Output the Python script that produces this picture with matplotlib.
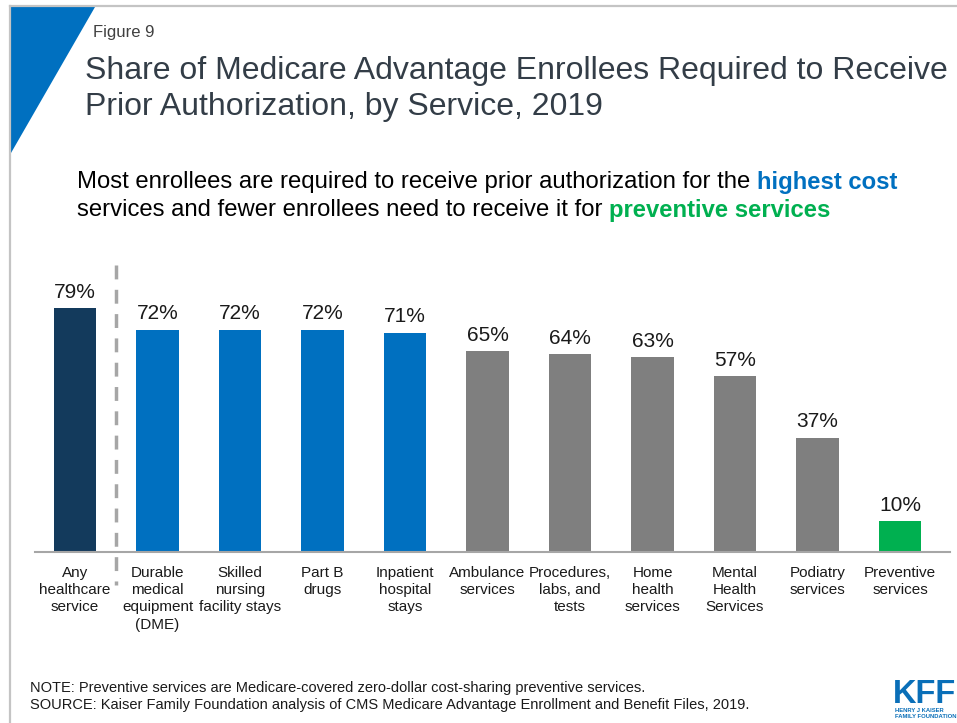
import matplotlib.pyplot as plt
from matplotlib.patches import Polygon
from matplotlib.lines import Line2D

plt.rcParams['font.family'] = ['Liberation Sans', 'DejaVu Sans']

W, H = 957, 723

categories = [
    "Any\nhealthcare\nservice",
    "Durable\nmedical\nequipment\n(DME)",
    "Skilled\nnursing\nfacility stays",
    "Part B\ndrugs",
    "Inpatient\nhospital\nstays",
    "Ambulance\nservices",
    "Procedures,\nlabs, and\ntests",
    "Home\nhealth\nservices",
    "Mental\nHealth\nServices",
    "Podiatry\nservices",
    "Preventive\nservices",
]
shares = [79, 72, 72, 72, 71, 65, 64, 63, 57, 37, 10]
groups = ["total", "high", "high", "high", "high", "mid", "mid", "mid", "mid", "mid", "prev"]

group_colors = {"total": "#133a5c", "high": "#0070c0", "mid": "#7f7f7f", "prev": "#00b050"}


def fx(x):
    return x / W


def fy(y):
    return 1 - y / H


fig = plt.figure(figsize=(W / 100, H / 100), dpi=100)

# frame lines and corner triangle
fig.add_artist(Line2D([fx(10), 1], [fy(6), fy(6)], color="#c4c4c4", lw=1.6))
fig.add_artist(Line2D([fx(10), fx(10)], [fy(6), 0], color="#c4c4c4", lw=1.6))
fig.add_artist(Polygon([[fx(11), fy(7)], [fx(95), fy(7)], [fx(11), fy(153)]],
                       closed=True, color="#0070c0", lw=0))

fig.text(fx(93), fy(33), "Figure 9", fontsize=12, color="#404040", va="center")
fig.text(fx(85), fy(71), "Share of Medicare Advantage Enrollees Required to Receive",
         fontsize=23, color="#333d47", va="center")
fig.text(fx(85), fy(107), "Prior Authorization, by Service, 2019",
         fontsize=23, color="#333d47", va="center")

# subtitle with highlighted words
fig.canvas.draw()
renderer = fig.canvas.get_renderer()


def run_line(x, y, parts):
    for txt, color, weight in parts:
        t = fig.text(fx(x), fy(y), txt, fontsize=17.2, color=color,
                     fontweight=weight, va="center")
        x += t.get_window_extent(renderer).width


run_line(77, 182, [("Most enrollees are required to receive prior authorization for the ", "black", "normal"),
                   ("highest cost", "#0070c0", "bold")])
run_line(77, 210, [("services and fewer enrollees need to receive it for ", "black", "normal"),
                   ("preventive services", "#00b050", "bold")])

# bar chart
ax = fig.add_axes([fx(35), 1 - 552 / H, (950 - 35) / W, (552 - 260) / H])
xs = range(len(shares))
bars = ax.bar(xs, shares, width=0.51, color=[group_colors[g] for g in groups])
for x, v in zip(xs, shares):
    ax.text(x, v + 2.0, f"{v}%", ha="center", va="bottom", fontsize=15, color="#1a1a1a")

ax.set_xlim(-0.485, 10.606)
ax.set_ylim(0, 94.5)
ax.set_xticks(list(xs))
ax.set_xticklabels(categories, fontsize=11, color="#1a1a1a", linespacing=1.3)
ax.tick_params(axis="x", length=0, pad=10)
ax.set_yticks([])
for side in ["top", "left", "right"]:
    ax.spines[side].set_visible(False)
ax.spines["bottom"].set_color("#a6a6a6")
ax.spines["bottom"].set_linewidth(1.5)

# divider between the total and the individual services
fig.add_artist(Line2D([fx(116), fx(116)], [fy(265), fy(585)], color="#a6a6a6",
                      lw=2.5, linestyle=(0, (4, 3))))

fig.text(fx(30), fy(688), "NOTE: Preventive services are Medicare-covered zero-dollar cost-sharing preventive services.",
         fontsize=10.5, color="#1a1a1a", va="center")
fig.text(fx(30), fy(705), "SOURCE: Kaiser Family Foundation analysis of CMS Medicare Advantage Enrollment and Benefit Files, 2019.",
         fontsize=10.5, color="#1a1a1a", va="center")

# logo
fig.text(fx(893), fy(703), "KFF", fontsize=23.5, fontweight="bold", color="#0a6fb8",
         va="baseline")
fig.text(fx(895), fy(711), "HENRY J KAISER", fontsize=4.2, fontweight="bold", color="#0a6fb8", va="center")
fig.text(fx(895), fy(717), "FAMILY FOUNDATION", fontsize=4.2, fontweight="bold", color="#0a6fb8", va="center")

fig.savefig("out.png", dpi=100)
